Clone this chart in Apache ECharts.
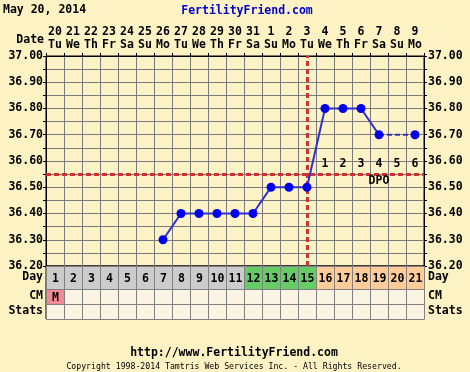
<!DOCTYPE html>
<html>
<head>
<meta charset="utf-8">
<script src="https://cdn.jsdelivr.net/npm/echarts@6/dist/echarts.min.js"></script>
<style>
  html, body { margin: 0; padding: 0; background: #FCF2C4; }
  #chart { width: 470px; height: 372px; }
</style>
</head>
<body>
<div id="chart"></div>
<script>
// Cycle days and the calendar dates they fall on
const cycleDays = ['1','2','3','4','5','6','7','8','9','10','11','12','13','14','15','16','17','18','19','20','21'];
const dates = ['20','21','22','23','24','25','26','27','28','29','30','31','1','2','3','4','5','6','7','8','9'];
const weekdays = ['Tu','We','Th','Fr','Sa','Su','Mo','Tu','We','Th','Fr','Sa','Su','Mo','Tu','We','Th','Fr','Sa','Su','Mo'];

// Basal body temperatures (null = not recorded)
const temps = [null, null, null, null, null, null, 36.30, 36.40, 36.40, 36.40, 36.40, 36.40,
               36.50, 36.50, 36.50, 36.80, 36.80, 36.80, 36.70, null, 36.70];

// Day-row phase shading: 0 = before fertile window, 1 = fertile, 2 = luteal
const phases = [0,0,0,0,0,0,0,0,0,0,0,1,1,1,1,2,2,2,2,2,2];
// Cervical mucus entries
const cmEntries = ['M','','','','','','','','','','','','','','','','','','','',''];

const coverline = 36.55;
const ovulationDay = '15';
const dpoLabels = ['1','2','3','4','5','6'];
const dpoStart = 15; // index of the first day past ovulation

const yTicksMin = 36.2, yTicksMax = 37.0;

const FONT = '"DejaVu Sans Mono", "Liberation Mono", monospace';
const phaseColors = ['#CCCCCC', '#66CC66', '#FFCC99'];
const cmColors = { M: '#F08A96' };

// Dashed connectors across unrecorded days
const gapData = temps.map(() => null);
for (let i = 0; i < temps.length; i++) {
  if (temps[i] === null) {
    let a = i - 1, b = i;
    while (b < temps.length && temps[b] === null) b++;
    if (a >= 0 && temps[a] !== null && b < temps.length) {
      gapData[a] = temps[a];
      gapData[b] = temps[b];
    }
    i = b;
  }
}

const chart = echarts.init(document.getElementById('chart'), null, { renderer: 'canvas' });

const labelBase = { fontFamily: FONT, fontWeight: 'bold', fontSize: 11.5, color: '#000' };

function yLabel(v) {
  const c = Math.round(v * 100);
  return c % 10 === 0 ? (c / 100).toFixed(2) : '';
}

function cellRenderer(fillFor, textFor) {
  return function (params, api) {
    const c = api.coord([api.value(0), 0]);
    const s = api.size([1, 1]);
    const x = Math.round(c[0] - s[0] / 2) + 0.5;
    const y = Math.round(c[1] - s[1] / 2) + 0.5;
    const w = Math.round(s[0]), h = Math.round(s[1]);
    const i = params.dataIndex;
    return {
      type: 'group',
      children: [
        { type: 'rect', shape: { x: x, y: y, width: w, height: h },
          style: { fill: fillFor(i), stroke: '#808080', lineWidth: 1 } },
        { type: 'text', style: { text: textFor(i), x: x + w / 2, y: y + h / 2 + 1,
          align: 'center', verticalAlign: 'middle',
          font: 'bold 11.5px ' + FONT, fill: '#000' } }
      ]
    };
  };
}

const rowGrid = (top, height) => ({ left: 46, width: 378, top: top, height: height,
  show: true, backgroundColor: 'transparent', borderColor: '#000', borderWidth: 1 });

const rowX = (gi) => ({ type: 'category', gridIndex: gi, data: cycleDays,
  axisLine: { show: false }, axisTick: { show: false }, axisLabel: { show: false }, splitLine: { show: false } });

const rowY = (gi, name, pos) => ({ type: 'category', gridIndex: gi, data: [name], position: pos,
  axisLine: { show: false }, axisTick: { show: false }, splitLine: { show: false },
  axisLabel: Object.assign({}, labelBase, { margin: pos === 'left' ? 3 : 4 }) });

const textSeries = (data, fmt) => ({
  type: 'scatter', xAxisIndex: 0, yAxisIndex: 0, symbolSize: 1, z: 6, silent: true,
  itemStyle: { color: 'rgba(0,0,0,0)', opacity: 1 },
  data: data,
  label: Object.assign({}, labelBase, { show: true, position: 'inside', formatter: fmt })
});

const option = {
  backgroundColor: '#FCF2C4',
  animation: false,
  grid: [
    { left: 46, width: 378, top: 56, height: 210, show: true, backgroundColor: '#FDF3C6', borderColor: '#000', borderWidth: 1 },
    rowGrid(266, 23),
    rowGrid(289, 15),
    rowGrid(304, 15)
  ],
  xAxis: [
    { type: 'category', gridIndex: 0, data: cycleDays, position: 'bottom',
      axisLine: { show: false }, axisTick: { show: false }, axisLabel: { show: false },
      splitLine: { show: true, interval: 0, lineStyle: { color: '#7A7A7A', width: 1 } } },
    { type: 'category', gridIndex: 0, data: dates, position: 'top',
      axisLine: { show: true, lineStyle: { color: '#000' } },
      axisTick: { show: true, length: 3, interval: 0, lineStyle: { color: '#000' } },
      axisLabel: Object.assign({}, labelBase, {
        interval: 0, margin: 4, lineHeight: 13,
        formatter: (v, i) => v + '\n' + weekdays[i]
      }),
      splitLine: { show: false } },
    rowX(1), rowX(2), rowX(3)
  ],
  yAxis: [
    { type: 'value', gridIndex: 0, min: yTicksMin, max: yTicksMax, interval: 0.05, position: 'left',
      axisLine: { show: true, lineStyle: { color: '#000' } },
      axisTick: { show: true, length: 3, lineStyle: { color: '#000' } },
      axisLabel: Object.assign({}, labelBase, { margin: 3, formatter: yLabel }),
      splitLine: { show: true, lineStyle: { color: '#7A7A7A', width: 1 } } },
    { type: 'value', gridIndex: 0, min: yTicksMin, max: yTicksMax, interval: 0.05, position: 'right',
      axisLine: { show: true, lineStyle: { color: '#000' } },
      axisTick: { show: true, length: 3, lineStyle: { color: '#000' } },
      axisLabel: Object.assign({}, labelBase, { margin: 4, formatter: yLabel }),
      splitLine: { show: false } },
    rowY(1, 'Day', 'left'), rowY(1, 'Day', 'right'),
    rowY(2, 'CM', 'left'), rowY(2, 'CM', 'right'),
    rowY(3, 'Stats', 'left'), rowY(3, 'Stats', 'right')
  ],
  graphic: [
    { type: 'text', left: 3, top: 4, style: { text: 'May 20, 2014', font: 'bold 11.5px ' + FONT, fill: '#000' } },
    { type: 'text', x: 247, y: 11, style: { text: 'FertilityFriend.com', font: 'bold 11.5px ' + FONT, fill: '#0000CC', align: 'center', verticalAlign: 'middle' } },
    { type: 'text', x: 44, y: 40, style: { text: 'Date', font: 'bold 11.5px ' + FONT, fill: '#000', align: 'right', verticalAlign: 'middle' } },
    { type: 'text', x: 234, y: 353, style: { text: 'http://www.FertilityFriend.com', font: 'bold 11.5px ' + FONT, fill: '#000', align: 'center', verticalAlign: 'middle' } },
    { type: 'text', x: 234, y: 367, style: { text: 'Copyright 1998-2014 Tamtris Web Services Inc. - All Rights Reserved.', font: '8.2px ' + FONT, fill: '#000', align: 'center', verticalAlign: 'middle' } }
  ],
  series: [
    {
      type: 'line', xAxisIndex: 0, yAxisIndex: 0, data: temps, connectNulls: false,
      symbol: 'circle', symbolSize: 9, z: 5,
      lineStyle: { color: '#3030CC', width: 2 },
      itemStyle: { color: '#0000EE' },
      markLine: {
        silent: true, symbol: 'none', label: { show: false },
        lineStyle: { color: '#CC3333', width: 3, type: [5, 3] },
        data: [{ yAxis: coverline }, { xAxis: ovulationDay }]
      }
    },
    {
      type: 'line', xAxisIndex: 0, yAxisIndex: 0, data: gapData, connectNulls: true,
      showSymbol: false, symbol: 'none', z: 4,
      lineStyle: { color: '#3030CC', width: 2, type: [5, 3] }
    },
    textSeries(dpoLabels.map((t, i) => [cycleDays[dpoStart + i], 36.59]), (p) => dpoLabels[p.dataIndex]),
    textSeries([[cycleDays[dpoStart + 3], 36.525]], 'DPO'),
    {
      type: 'custom', xAxisIndex: 2, yAxisIndex: 2,
      data: cycleDays.map((d, i) => [i, 0]),
      renderItem: cellRenderer(i => phaseColors[phases[i]], i => cycleDays[i])
    },
    {
      type: 'custom', xAxisIndex: 3, yAxisIndex: 4,
      data: cycleDays.map((d, i) => [i, 0]),
      renderItem: cellRenderer(i => cmColors[cmEntries[i]] || '#FCF4E2', i => cmEntries[i])
    },
    {
      type: 'custom', xAxisIndex: 4, yAxisIndex: 6,
      data: cycleDays.map((d, i) => [i, 0]),
      renderItem: cellRenderer(() => '#FCF4E2', () => '')
    }
  ]
};

chart.setOption(option);
</script>
</body>
</html>
